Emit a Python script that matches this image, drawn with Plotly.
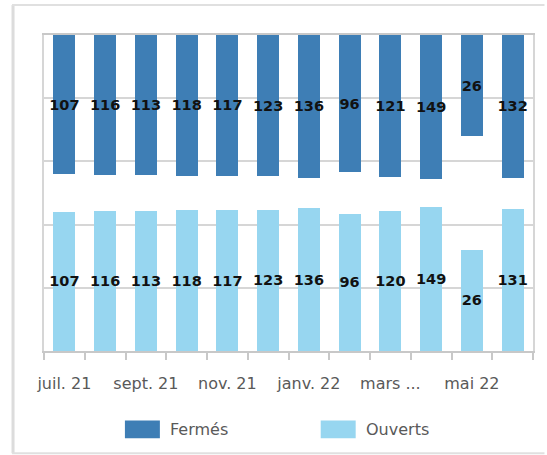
import plotly.graph_objects as go

# ---- data ----
mois = ['juil. 21', 'août 21', 'sept. 21', 'oct. 21', 'nov. 21', 'déc. 21',
        'janv. 22', 'févr. 22', 'mars 22', 'avr. 22', 'mai 22', 'juin 22']
etiquettes = ['juil. 21', '', 'sept. 21', '', 'nov. 21', '', 'janv. 22', '',
              'mars ...', '', 'mai 22', '']
fermes = [107, 116, 113, 118, 117, 123, 136, 96, 121, 149, 26, 132]
ouverts = [107, 116, 113, 118, 117, 123, 136, 96, 120, 149, 26, 131]
ecart = [29, 29, 29, 29, 29, 29, 29, 29, 29, 29, 29, 29]  # hidden spacer series

# ---- layout geometry (pixels) ----
W, H = 547, 455
L, R, T, B = 44, 533.5, 35, 351.5


def px(x):
    return (x - L) / (R - L)


def py(y):
    return (B - y) / (B - T)


C_FERMES = '#3E7EB5'
C_OUVERTS = '#97D6F0'
TXT = '#595959'
LBL_FONT = dict(family='DejaVu Sans', size=14.5, color='#111111', weight='bold')

fig = go.Figure()
fig.add_trace(go.Bar(x=mois, y=ouverts, name='Ouverts', marker_color=C_OUVERTS,
                     marker_line_width=0, text=[str(v) for v in ouverts],
                     textposition='inside', insidetextanchor='middle',
                     constraintext='none', textangle=0, textfont=LBL_FONT,
                     showlegend=False))
fig.add_trace(go.Bar(x=mois, y=ecart, name='', marker_color='rgba(0,0,0,0)',
                     marker_line_width=0, hoverinfo='skip', showlegend=False))
fig.add_trace(go.Bar(x=mois, y=fermes, name='Fermés', marker_color=C_FERMES,
                     marker_line_width=0, text=[str(v) for v in fermes],
                     textposition='inside', insidetextanchor='middle',
                     constraintext='none', textangle=0, textfont=LBL_FONT,
                     showlegend=False))

shapes = [
    # outer container frame
    dict(type='line', xref='paper', yref='paper', x0=px(13), x1=px(13), y0=py(5), y1=py(454),
         line=dict(color='#dcdcdc', width=3)),
    dict(type='line', xref='paper', yref='paper', x0=px(12), x1=px(545), y0=py(5), y1=py(5),
         line=dict(color='#e0e0e0', width=2)),
    dict(type='line', xref='paper', yref='paper', x0=px(12), x1=px(545), y0=py(454), y1=py(454),
         line=dict(color='#e0e0e0', width=2)),
    # legend swatches
    dict(type='rect', xref='paper', yref='paper', x0=px(125), x1=px(160), y0=py(421), y1=py(439),
         fillcolor=C_FERMES, line_width=0),
    dict(type='rect', xref='paper', yref='paper', x0=px(321), x1=px(356), y0=py(421), y1=py(439),
         fillcolor=C_OUVERTS, line_width=0),
]

annotations = [
    dict(text='Fermés', xref='paper', yref='paper', x=px(168), y=py(430), xanchor='left',
         yanchor='middle', showarrow=False, font=dict(family='DejaVu Sans', size=16, color=TXT)),
    dict(text='Ouverts', xref='paper', yref='paper', x=px(364), y=py(430), xanchor='left',
         yanchor='middle', showarrow=False, font=dict(family='DejaVu Sans', size=16, color=TXT)),
]

fig.update_layout(
    width=W, height=H,
    margin=dict(l=L, r=W - R, t=T, b=H - B, pad=0, autoexpand=False),
    paper_bgcolor='white', plot_bgcolor='white',
    barmode='stack', barnorm='percent', bargap=0.46,
    showlegend=False,
    shapes=shapes, annotations=annotations,
    font=dict(family='DejaVu Sans', color=TXT),
)
fig.update_xaxes(type='category', tickmode='array', tickvals=mois, ticktext=etiquettes,
                 tickson='boundaries', ticks='outside', ticklen=7, tickcolor='#c8c8c8',
                 tickwidth=1.5, showgrid=False, showline=True, linecolor='#c8c8c8',
                 linewidth=1.5, mirror=True, ticklabelstandoff=17, tickangle=0,
                 automargin=False,
                 tickfont=dict(family='DejaVu Sans', size=16, color=TXT))
fig.update_yaxes(range=[0, 100], dtick=20, showticklabels=False, showgrid=True,
                 gridcolor='#d6d6d6', gridwidth=1.5, zeroline=False, showline=True,
                 linecolor='#d6d6d6', linewidth=1.5, mirror=True, ticks='',
                 automargin=False)

fig.write_html('out.html', config={'displayModeBar': False},
               post_script="document.body.style.margin='0';document.body.style.overflow='hidden';")
